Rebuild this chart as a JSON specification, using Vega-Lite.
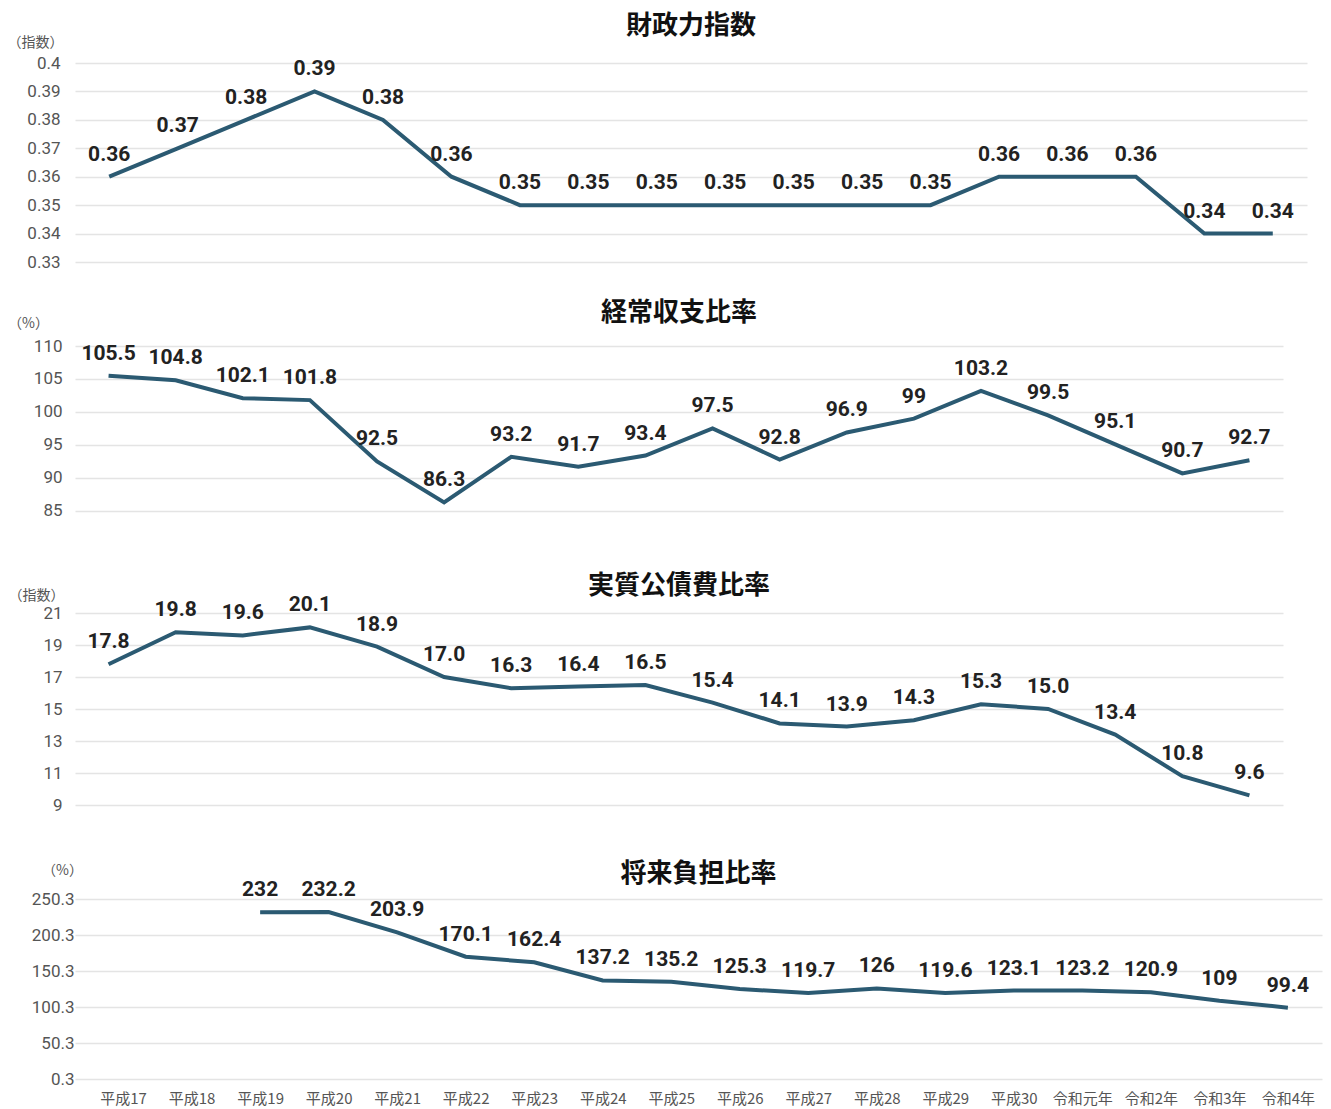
{
  "$schema": "https://vega.github.io/schema/vega-lite/v6.json",
  "padding": {"top": 13, "left": 7, "right": 5, "bottom": 5},
  "background": "#ffffff",
  "bounds": "flush",
  "spacing": 84,
  "datasets": {
    "d": [
      {"panel": "p1", "year": "平成17", "value": 0.36, "label": "0.36"},
      {"panel": "p1", "year": "平成18", "value": 0.37, "label": "0.37"},
      {"panel": "p1", "year": "平成19", "value": 0.38, "label": "0.38"},
      {"panel": "p1", "year": "平成20", "value": 0.39, "label": "0.39"},
      {"panel": "p1", "year": "平成21", "value": 0.38, "label": "0.38"},
      {"panel": "p1", "year": "平成22", "value": 0.36, "label": "0.36"},
      {"panel": "p1", "year": "平成23", "value": 0.35, "label": "0.35"},
      {"panel": "p1", "year": "平成24", "value": 0.35, "label": "0.35"},
      {"panel": "p1", "year": "平成25", "value": 0.35, "label": "0.35"},
      {"panel": "p1", "year": "平成26", "value": 0.35, "label": "0.35"},
      {"panel": "p1", "year": "平成27", "value": 0.35, "label": "0.35"},
      {"panel": "p1", "year": "平成28", "value": 0.35, "label": "0.35"},
      {"panel": "p1", "year": "平成29", "value": 0.35, "label": "0.35"},
      {"panel": "p1", "year": "平成30", "value": 0.36, "label": "0.36"},
      {"panel": "p1", "year": "令和元年", "value": 0.36, "label": "0.36"},
      {"panel": "p1", "year": "令和2年", "value": 0.36, "label": "0.36"},
      {"panel": "p1", "year": "令和3年", "value": 0.34, "label": "0.34"},
      {"panel": "p1", "year": "令和4年", "value": 0.34, "label": "0.34"},
      {"panel": "p2", "year": "平成17", "value": 105.5, "label": "105.5"},
      {"panel": "p2", "year": "平成18", "value": 104.8, "label": "104.8"},
      {"panel": "p2", "year": "平成19", "value": 102.1, "label": "102.1"},
      {"panel": "p2", "year": "平成20", "value": 101.8, "label": "101.8"},
      {"panel": "p2", "year": "平成21", "value": 92.5, "label": "92.5"},
      {"panel": "p2", "year": "平成22", "value": 86.3, "label": "86.3"},
      {"panel": "p2", "year": "平成23", "value": 93.2, "label": "93.2"},
      {"panel": "p2", "year": "平成24", "value": 91.7, "label": "91.7"},
      {"panel": "p2", "year": "平成25", "value": 93.4, "label": "93.4"},
      {"panel": "p2", "year": "平成26", "value": 97.5, "label": "97.5"},
      {"panel": "p2", "year": "平成27", "value": 92.8, "label": "92.8"},
      {"panel": "p2", "year": "平成28", "value": 96.9, "label": "96.9"},
      {"panel": "p2", "year": "平成29", "value": 99, "label": "99"},
      {"panel": "p2", "year": "平成30", "value": 103.2, "label": "103.2"},
      {"panel": "p2", "year": "令和元年", "value": 99.5, "label": "99.5"},
      {"panel": "p2", "year": "令和2年", "value": 95.1, "label": "95.1"},
      {"panel": "p2", "year": "令和3年", "value": 90.7, "label": "90.7"},
      {"panel": "p2", "year": "令和4年", "value": 92.7, "label": "92.7"},
      {"panel": "p3", "year": "平成17", "value": 17.8, "label": "17.8"},
      {"panel": "p3", "year": "平成18", "value": 19.8, "label": "19.8"},
      {"panel": "p3", "year": "平成19", "value": 19.6, "label": "19.6"},
      {"panel": "p3", "year": "平成20", "value": 20.1, "label": "20.1"},
      {"panel": "p3", "year": "平成21", "value": 18.9, "label": "18.9"},
      {"panel": "p3", "year": "平成22", "value": 17.0, "label": "17.0"},
      {"panel": "p3", "year": "平成23", "value": 16.3, "label": "16.3"},
      {"panel": "p3", "year": "平成24", "value": 16.4, "label": "16.4"},
      {"panel": "p3", "year": "平成25", "value": 16.5, "label": "16.5"},
      {"panel": "p3", "year": "平成26", "value": 15.4, "label": "15.4"},
      {"panel": "p3", "year": "平成27", "value": 14.1, "label": "14.1"},
      {"panel": "p3", "year": "平成28", "value": 13.9, "label": "13.9"},
      {"panel": "p3", "year": "平成29", "value": 14.3, "label": "14.3"},
      {"panel": "p3", "year": "平成30", "value": 15.3, "label": "15.3"},
      {"panel": "p3", "year": "令和元年", "value": 15.0, "label": "15.0"},
      {"panel": "p3", "year": "令和2年", "value": 13.4, "label": "13.4"},
      {"panel": "p3", "year": "令和3年", "value": 10.8, "label": "10.8"},
      {"panel": "p3", "year": "令和4年", "value": 9.6, "label": "9.6"},
      {"panel": "p4", "year": "平成19", "value": 232, "label": "232"},
      {"panel": "p4", "year": "平成20", "value": 232.2, "label": "232.2"},
      {"panel": "p4", "year": "平成21", "value": 203.9, "label": "203.9"},
      {"panel": "p4", "year": "平成22", "value": 170.1, "label": "170.1"},
      {"panel": "p4", "year": "平成23", "value": 162.4, "label": "162.4"},
      {"panel": "p4", "year": "平成24", "value": 137.2, "label": "137.2"},
      {"panel": "p4", "year": "平成25", "value": 135.2, "label": "135.2"},
      {"panel": "p4", "year": "平成26", "value": 125.3, "label": "125.3"},
      {"panel": "p4", "year": "平成27", "value": 119.7, "label": "119.7"},
      {"panel": "p4", "year": "平成28", "value": 126, "label": "126"},
      {"panel": "p4", "year": "平成29", "value": 119.6, "label": "119.6"},
      {"panel": "p4", "year": "平成30", "value": 123.1, "label": "123.1"},
      {"panel": "p4", "year": "令和元年", "value": 123.2, "label": "123.2"},
      {"panel": "p4", "year": "令和2年", "value": 120.9, "label": "120.9"},
      {"panel": "p4", "year": "令和3年", "value": 109, "label": "109"},
      {"panel": "p4", "year": "令和4年", "value": 99.4, "label": "99.4"}
    ]
  },
  "vconcat": [
    {
      "title": {"text": "財政力指数", "offset": -4},
      "width": 1232,
      "height": 199,
      "data": {"name": "d"},
      "transform": [{"filter": "datum.panel === 'p1'"}],
      "encoding": {
        "x": {"field": "year", "type": "ordinal", "sort": null,
              "scale": {"type": "point", "padding": 0.5,
                        "domain": ["平成17","平成18","平成19","平成20","平成21","平成22","平成23","平成24","平成25","平成26","平成27","平成28","平成29","平成30","令和元年","令和2年","令和3年","令和4年"]},
              "axis": null},
        "y": {"field": "value", "type": "quantitative",
              "scale": {"domain": [0.33, 0.40], "nice": false, "zero": false},
              "axis": {"values": [0.33, 0.34, 0.35, 0.36, 0.37, 0.38, 0.39, 0.4], "format": ".2~f",
                       "title": "（指数）", "titleX": -40, "titleY": -21, "labelPadding": 15}}
      },
      "layer": [
        {"mark": {"type": "line", "color": "#2b5a72", "strokeWidth": 4}},
        {"mark": {"type": "text", "dy": -22, "font": "Roboto", "fontSize": 21, "fontWeight": "bold", "color": "#222222"},
         "encoding": {"text": {"field": "label"}}}
      ]
    },
    {
      "title": {"text": "経常収支比率", "offset": -10},
      "width": 1208,
      "height": 183,
      "data": {"name": "d"},
      "transform": [{"filter": "datum.panel === 'p2'"}],
      "encoding": {
        "x": {"field": "year", "type": "ordinal", "sort": null,
              "scale": {"type": "point", "padding": 0.5,
                        "domain": ["平成17","平成18","平成19","平成20","平成21","平成22","平成23","平成24","平成25","平成26","平成27","平成28","平成29","平成30","令和元年","令和2年","令和3年","令和4年"]},
              "axis": null},
        "y": {"field": "value", "type": "quantitative",
              "scale": {"domain": [82.27, 110], "nice": false, "zero": false},
              "axis": {"values": [85, 90, 95, 100, 105, 110], "format": "d",
                       "title": "（%）", "titleX": -47, "titleY": -23, "labelPadding": 13}}
      },
      "layer": [
        {"mark": {"type": "line", "color": "#2b5a72", "strokeWidth": 4}},
        {"mark": {"type": "text", "dy": -22, "font": "Roboto", "fontSize": 21, "fontWeight": "bold", "color": "#222222"},
         "encoding": {"text": {"field": "label"}}}
      ]
    },
    {
      "title": {"text": "実質公債費比率", "offset": -11},
      "width": 1208,
      "height": 202,
      "data": {"name": "d"},
      "transform": [{"filter": "datum.panel === 'p3'"}],
      "encoding": {
        "x": {"field": "year", "type": "ordinal", "sort": null,
              "scale": {"type": "point", "padding": 0.5,
                        "domain": ["平成17","平成18","平成19","平成20","平成21","平成22","平成23","平成24","平成25","平成26","平成27","平成28","平成29","平成30","令和元年","令和2年","令和3年","令和4年"]},
              "axis": null},
        "y": {"field": "value", "type": "quantitative",
              "scale": {"domain": [8.375, 21], "nice": false, "zero": false},
              "axis": {"values": [9, 11, 13, 15, 17, 19, 21], "format": "d",
                       "title": "（指数）", "titleX": -39, "titleY": -18, "labelPadding": 13}}
      },
      "layer": [
        {"mark": {"type": "line", "color": "#2b5a72", "strokeWidth": 4}},
        {"mark": {"type": "text", "dy": -22, "font": "Roboto", "fontSize": 21, "fontWeight": "bold", "color": "#222222"},
         "encoding": {"text": {"field": "label"}}}
      ]
    },
    {
      "title": {"text": "将来負担比率", "offset": -24},
      "width": 1247,
      "height": 180,
      "data": {"name": "d"},
      "transform": [{"filter": "datum.panel === 'p4'"}],
      "encoding": {
        "x": {"field": "year", "type": "ordinal", "sort": null,
              "scale": {"type": "point", "padding": 0.6, "align": 0.585,
                        "domain": ["平成17","平成18","平成19","平成20","平成21","平成22","平成23","平成24","平成25","平成26","平成27","平成28","平成29","平成30","令和元年","令和2年","令和3年","令和4年"]},
              "axis": {"title": null, "domain": false, "ticks": false, "grid": false, "labelPadding": 12,
                       "labelFont": "Noto Sans CJK JP", "labelFontSize": 15, "labelColor": "#555555", "labelAngle": 0}},
        "y": {"field": "value", "type": "quantitative",
              "scale": {"domain": [0.3, 250.3], "nice": false, "zero": false},
              "axis": {"values": [0.3, 50.3, 100.3, 150.3, 200.3, 250.3], "format": ".1f",
                       "title": "（%）", "titleX": -13, "titleY": -29, "labelPadding": 1}}
      },
      "layer": [
        {"mark": {"type": "line", "color": "#2b5a72", "strokeWidth": 4}},
        {"mark": {"type": "text", "dy": -22, "font": "Roboto", "fontSize": 21, "fontWeight": "bold", "color": "#222222"},
         "encoding": {"text": {"field": "label"}}}
      ]
    }
  ],
  "config": {
    "view": {"stroke": null},
    "title": {"font": "Noto Sans CJK JP", "fontSize": 26, "fontWeight": "bold", "color": "#111111", "anchor": "middle"},
    "axisY": {
      "domain": false, "ticks": false, "tickSize": 0,
      "grid": true, "gridColor": "#e4e4e4", "gridWidth": 1.5,
      "labelFont": "Roboto", "labelFontSize": 17, "labelColor": "#555555",
      "titleFont": "Noto Sans CJK JP", "titleFontSize": 14, "titleFontWeight": "normal", "titleColor": "#555555",
      "titleAngle": 0, "titleAlign": "center", "titleBaseline": "middle", "titleAnchor": null
    }
  }
}
